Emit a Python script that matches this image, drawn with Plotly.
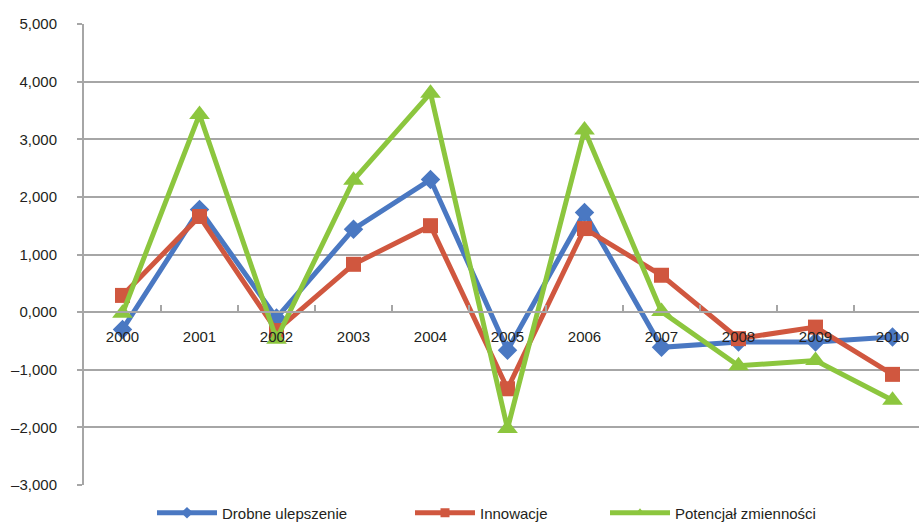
import plotly.graph_objects as go

# Data
years = ["2000", "2001", "2002", "2003", "2004", "2005", "2006", "2007", "2008", "2009", "2010"]
drobne_ulepszenie = [-0.30, 1.78, -0.10, 1.44, 2.30, -0.66, 1.73, -0.61, -0.52, -0.52, -0.43]
innowacje = [0.29, 1.66, -0.32, 0.83, 1.50, -1.33, 1.45, 0.64, -0.46, -0.26, -1.08]
potencjal = [-0.02, 3.43, -0.47, 2.29, 3.80, -2.02, 3.16, 0.01, -0.93, -0.84, -1.53]

y_ticks = [-3, -2, -1, 0, 1, 2, 3, 4, 5]
y_ticktext = ["\u20133,000", "\u20132,000", "\u20131,000", "0,000", "1,000", "2,000", "3,000", "4,000", "5,000"]

FONT = "Liberation Sans, Arial, sans-serif"
GRID = "#a6a6a6"

series = [
    ("Drobne ulepszenie", drobne_ulepszenie, "#4a78c2", "diamond", 15, "legend"),
    ("Innowacje", innowacje, "#d0573f", "square", 15, "legend2"),
    ("Potencjał zmienności", potencjal, "#8cc63e", "triangle-up", 18, "legend3"),
]

fig = go.Figure()
for name, vals, color, symbol, size, leg in series:
    fig.add_trace(go.Scatter(
        x=years, y=vals, name=name, mode="lines+markers",
        line=dict(color=color, width=5),
        marker=dict(symbol=symbol, size=size, color=color),
        showlegend=False,
    ))
# Legend entries with smaller symbols than the plotted markers
for name, vals, color, symbol, size, leg in series:
    fig.add_trace(go.Scatter(
        x=[None], y=[None], name=name, mode="lines+markers",
        line=dict(color=color, width=5),
        marker=dict(symbol=symbol, size=9, color=color),
        legend=leg, showlegend=True,
    ))

W, H = 919, 525
ml, mr, mt, mb = 84, 0, 24, 40
pw = W - ml - mr


def lx(px):
    return (px - ml) / pw


legend_common = dict(
    orientation="h", yref="container", yanchor="middle", y=1 - 513 / H,
    xanchor="left",
    font=dict(family=FONT, size=15, color="#231f20"),
    bgcolor="rgba(0,0,0,0)", itemwidth=60,
)

fig.update_layout(
    width=W, height=H,
    margin=dict(l=ml, r=mr, t=mt, b=mb, autoexpand=False),
    paper_bgcolor="white", plot_bgcolor="white",
    font=dict(family=FONT, size=15, color="#231f20"),
    showlegend=True,
    legend=dict(x=lx(152), **legend_common),
    legend2=dict(x=lx(410), **legend_common),
    legend3=dict(x=lx(605), **legend_common),
    xaxis=dict(
        type="category",
        range=[-0.5, 10.344],
        anchor="free", position=3 / 8,
        showgrid=False, zeroline=False,
        showline=True, linecolor=GRID, linewidth=2,
        ticks="inside", tickson="boundaries", ticklen=6, tickcolor=GRID, tickwidth=2,
        ticklabelstandoff=11,
        tickfont=dict(family=FONT, size=15, color="#231f20"),
    ),
    yaxis=dict(
        range=[-3, 5],
        tickvals=y_ticks, ticktext=y_ticktext,
        showgrid=True, gridcolor=GRID, gridwidth=2,
        zeroline=False,
        showline=True, linecolor=GRID, linewidth=2,
        ticks="outside", ticklen=5, tickcolor=GRID, tickwidth=2,
        ticklabelstandoff=17,
        tickfont=dict(family=FONT, size=15, color="#231f20"),
    ),
)

fig.write_html("out.html")
